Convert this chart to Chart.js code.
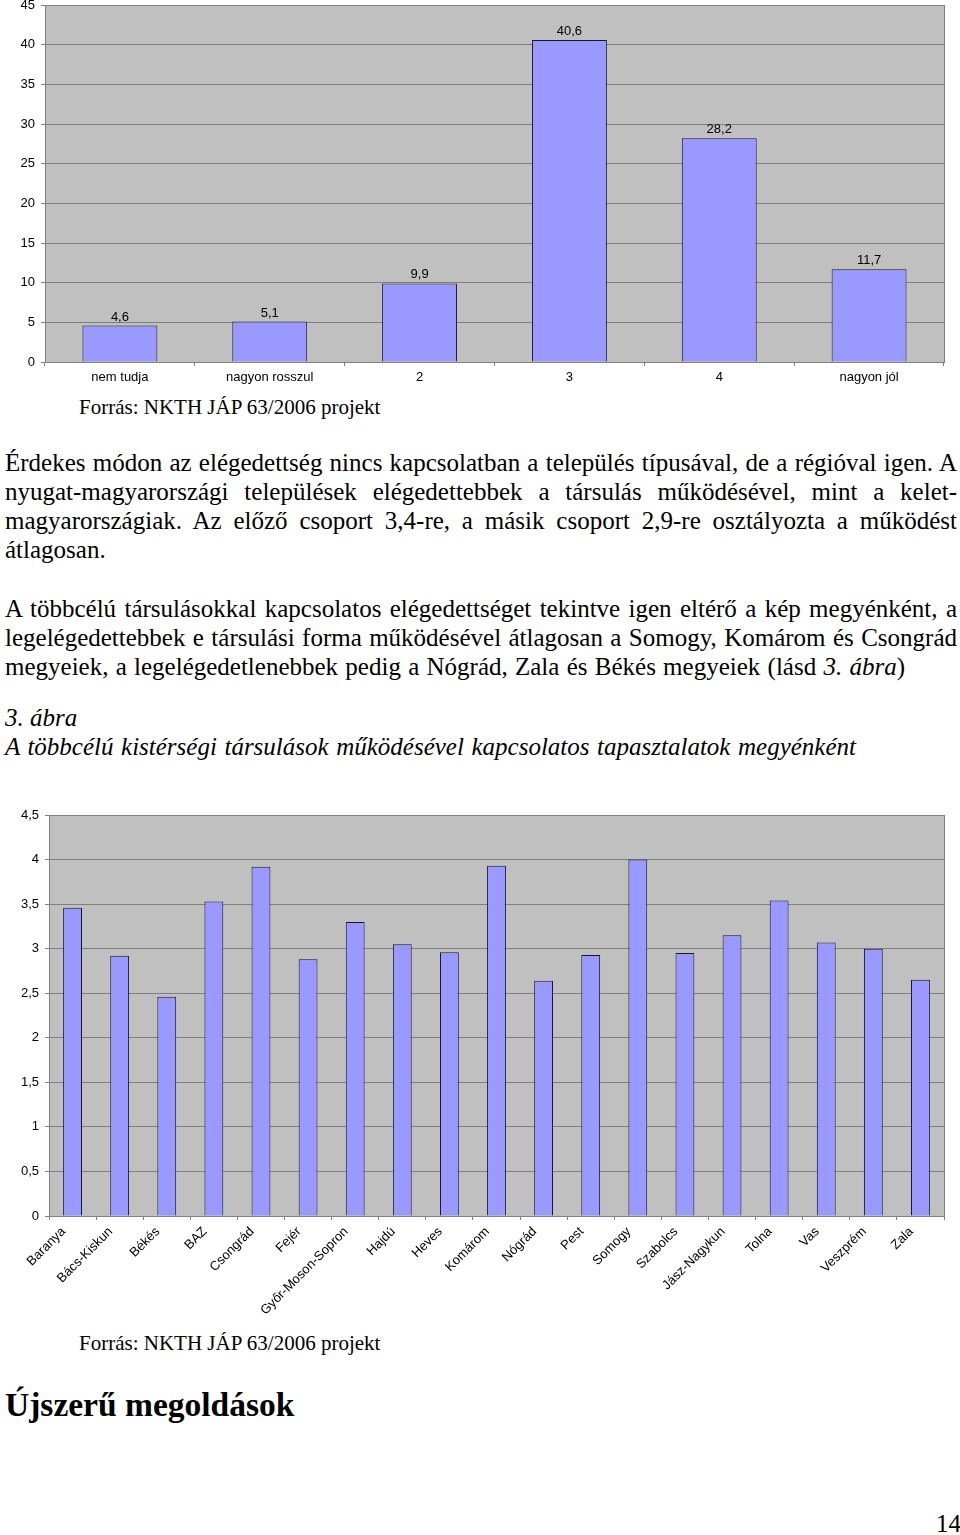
<!DOCTYPE html>
<html>
<head>
<meta charset="utf-8">
<script src="https://cdn.jsdelivr.net/npm/chart.js@4"></script>
<style>
  body { margin: 0; background: #fff; width: 960px; height: 1535px; position: relative; overflow: hidden;
         font-family: "Liberation Serif", "Times New Roman", serif; color: #000; }
  canvas { position: absolute; left: 0; }
  .txt { position: absolute; left: 5px; width: 952px; font-size: 25px; line-height: 29px; }
  .j { text-align: justify; text-align-last: justify; }
  .forras { position: absolute; left: 79px; font-size: 21px; line-height: 24px; white-space: nowrap; }
  .cim { position: absolute; left: 5px; font-size: 33.5px; line-height: 40px; font-weight: bold; white-space: nowrap; }
  .oldal { position: absolute; left: 936px; top: 1509px; font-size: 25px; line-height: 29px; }
</style>
</head>
<body>
<canvas id="elegedettseg" width="960" height="390" style="top:0"></canvas>
<div class="forras" style="top:395px">Forrás: NKTH JÁP 63/2006 projekt</div>

<div class="txt" style="top:448px">
  <div class="j">Érdekes módon az elégedettség nincs kapcsolatban a település típusával, de a régióval igen. A</div>
  <div class="j">nyugat-magyarországi települések elégedettebbek a társulás működésével, mint a kelet-</div>
  <div class="j">magyarországiak. Az előző csoport 3,4-re, a másik csoport 2,9-re osztályozta a működést</div>
  <div>átlagosan.</div>
</div>

<div class="txt" style="top:594px">
  <div class="j">A többcélú társulásokkal kapcsolatos elégedettséget tekintve igen eltérő a kép megyénként, a</div>
  <div class="j">legelégedettebbek e társulási forma működésével átlagosan a Somogy, Komárom és Csongrád</div>
  <div class="j" style="width:900px">megyeiek, a legelégedetlenebbek pedig a Nógrád, Zala és Békés megyeiek (lásd <i>3. ábra</i>)</div>
</div>

<div class="txt" style="top:703px; font-style:italic">
  <div>3. ábra</div>
  <div class="j" style="width:851px">A többcélú kistérségi társulások működésével kapcsolatos tapasztalatok megyénként</div>
</div>

<canvas id="megyek" width="960" height="530" style="top:790px"></canvas>
<div class="forras" style="top:1331px">Forrás: NKTH JÁP 63/2006 projekt</div>
<div class="cim" style="top:1385px">Újszerű megoldások</div>
<div class="oldal">14</div>

<script>
// 1. ábra adatai
const valaszok = ['nem tudja', 'nagyon rosszul', '2', '3', '4', 'nagyon jól'];
const aranyok = [4.6, 5.1, 9.9, 40.6, 28.2, 11.7];

// 3. ábra adatai
const megyeNevek = ['Baranya', 'Bács-Kiskun', 'Békés', 'BAZ', 'Csongrád', 'Fejér', 'Győr-Moson-Sopron',
  'Hajdú', 'Heves', 'Komárom', 'Nógrád', 'Pest', 'Somogy', 'Szabolcs', 'Jász-Nagykun', 'Tolna',
  'Vas', 'Veszprém', 'Zala'];
const megyeAtlagok = [3.46, 2.92, 2.46, 3.53, 3.92, 2.88, 3.30, 3.05, 2.96, 3.93, 2.64, 2.93, 4.00,
  2.95, 3.15, 3.54, 3.07, 3.00, 2.65];

const vesszo = v => String(v).replace('.', ',');
const betu = { family: '"Liberation Sans", Arial, sans-serif', size: 13 };

// szürke rajzterület + keret
const hatter = {
  id: 'hatter',
  beforeDraw(chart) {
    const a = chart.chartArea, ctx = chart.ctx;
    ctx.save();
    ctx.fillStyle = '#c0c0c0';
    ctx.fillRect(a.left, a.top, a.right - a.left, a.bottom - a.top);
    ctx.restore();
  },
  afterDraw(chart) {
    const a = chart.chartArea, ctx = chart.ctx;
    ctx.save();
    ctx.strokeStyle = '#808080';
    ctx.lineWidth = 1;
    ctx.beginPath();
    ctx.moveTo(Math.round(a.right) + 0.5, a.top);
    ctx.lineTo(Math.round(a.right) + 0.5, a.bottom);
    ctx.stroke();
    ctx.restore();
  }
};

// értékek az oszlopok fölött
const ertekek = {
  id: 'ertekek',
  afterDatasetsDraw(chart, args, opts) {
    if (!opts.show) return;
    const ctx = chart.ctx;
    ctx.save();
    ctx.font = '13px "Liberation Sans", Arial, sans-serif';
    ctx.fillStyle = '#000';
    ctx.textAlign = 'center';
    ctx.textBaseline = 'alphabetic';
    chart.getDatasetMeta(0).data.forEach((bar, i) => {
      ctx.fillText(vesszo(chart.data.datasets[0].data[i]), bar.x, bar.y - 5);
    });
    ctx.restore();
  }
};

function tengelyek(yMax, yStep, yWidth, xHeight, rot, eltolas) {
  return {
    x: {
      grid: { display: true, drawOnChartArea: false, offset: true, tickLength: 4, color: '#808080' },
      border: { color: '#808080' },
      ticks: { color: '#000', font: betu, autoSkip: false, maxRotation: rot, minRotation: rot,
               padding: 4, labelOffset: eltolas },
      afterFit(s) { s.height = xHeight; s.paddingLeft = 0; s.paddingRight = 0; }
    },
    y: {
      min: 0, max: yMax,
      grid: { color: '#808080', tickLength: 4 },
      border: { color: '#808080' },
      ticks: { stepSize: yStep, color: '#000', font: betu, padding: 6, callback: v => vesszo(v) },
      afterFit(s) { s.width = yWidth; s.paddingTop = 0; s.paddingBottom = 0; }
    }
  };
}

new Chart(document.getElementById('elegedettseg'), {
  type: 'bar',
  data: {
    labels: valaszok,
    datasets: [{
      data: aranyok,
      backgroundColor: '#9999ff',
      borderColor: '#14142e',
      borderWidth: 1,
      barPercentage: 0.5,
      categoryPercentage: 1
    }]
  },
  options: {
    responsive: false,
    animation: false,
    layout: { padding: { top: 5, right: 16, left: 0, bottom: 0 } },
    plugins: { legend: { display: false }, tooltip: { enabled: false }, ertekek: { show: true } },
    scales: tengelyek(45, 5, 45, 28, 0, 0)
  },
  plugins: [hatter, ertekek]
});

new Chart(document.getElementById('megyek'), {
  type: 'bar',
  data: {
    labels: megyeNevek,
    datasets: [{
      data: megyeAtlagok,
      backgroundColor: '#9999ff',
      borderColor: '#14142e',
      borderWidth: 1,
      barPercentage: 0.4,
      categoryPercentage: 1
    }]
  },
  options: {
    responsive: false,
    animation: false,
    layout: { padding: { top: 25, right: 16, left: 0, bottom: 0 } },
    plugins: { legend: { display: false }, tooltip: { enabled: false }, ertekek: { show: false } },
    scales: tengelyek(4.5, 0.5, 49, 104, 45, -9)
  },
  plugins: [hatter, ertekek]
});
</script>
</body>
</html>
